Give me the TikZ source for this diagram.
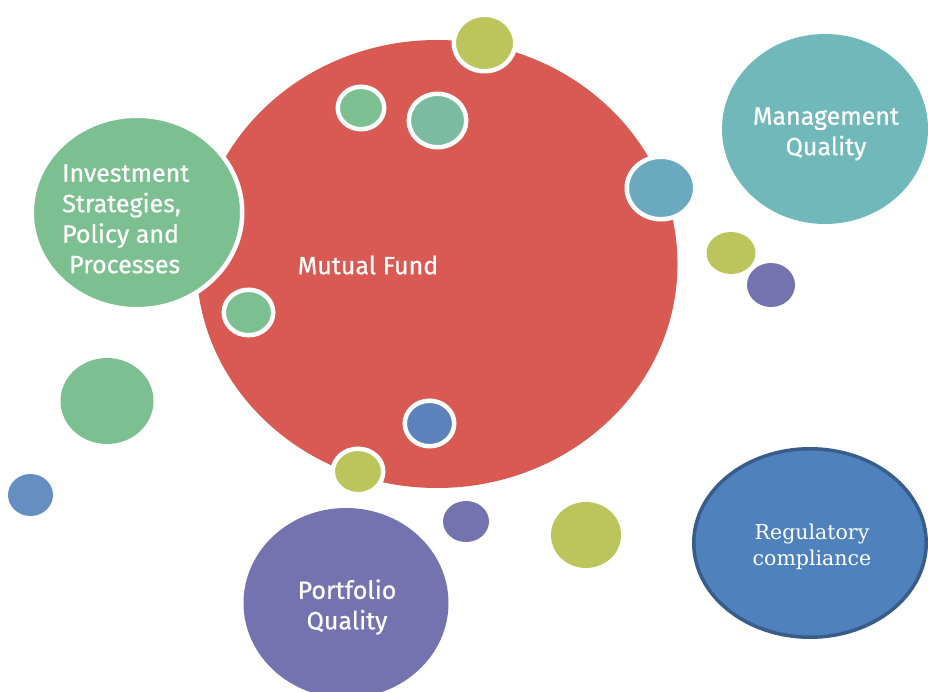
\documentclass[tikz,border=0pt]{standalone}
\usepackage{fontspec}
\setmainfont{Fira Sans}
\newfontfamily\labsans{Fira Sans}[FakeBold=0.6]
\newfontfamily\regserif{DejaVu Serif}
\usetikzlibrary{shapes.geometric}
\definecolor{cred}{RGB}{217,89,83}
\definecolor{cgreen}{RGB}{124,191,144}
\definecolor{cteal}{RGB}{112,184,186}
\definecolor{ctealgreen}{RGB}{122,187,162}
\definecolor{cblueteal}{RGB}{107,170,190}
\definecolor{cpurple}{RGB}{117,115,175}
\definecolor{cyellow}{RGB}{187,197,92}
\definecolor{cblue}{RGB}{79,129,189}
\definecolor{cbluedark}{RGB}{56,93,138}
\definecolor{cbluesmall}{RGB}{91,130,186}
\definecolor{cblueleft}{RGB}{100,143,192}
\begin{document}
\begin{tikzpicture}[x=1pt,y=-1pt,
  bub/.style={ellipse, inner sep=0pt, outer sep=0pt},
  ring/.style={draw=white, line width=4.5pt},
  lab/.style={text=white, font=\labsans\fontsize{25}{30.5}\selectfont, align=center, inner sep=0pt}]
\useasboundingbox (0,0) rectangle (928,692);
\begin{scope}
\clip (0,0) rectangle (928,692);
\node[bub, fill=cred, minimum width=481pt, minimum height=448pt] (mf) at (437,264) {};
\node[bub, fill=cgreen, ring, minimum width=210.5pt, minimum height=193.5pt] (inv) at (137,212.5) {};
\node[bub, fill=cteal, minimum width=206pt, minimum height=190pt] (mgmt) at (825,129) {};
\node[bub, fill=cblue, draw=cbluedark, line width=3.5pt, minimum width=232.5pt, minimum height=188.5pt] (reg) at (810,543) {};
\node[bub, fill=cpurple, minimum width=205pt, minimum height=190pt] (port) at (346,603) {};
% ringed small bubbles
\node[bub, ring, fill=cyellow, minimum width=61.5pt, minimum height=56.5pt] (s1) at (484.5,43) {};
\node[bub, ring, fill=cgreen, minimum width=46.5pt, minimum height=42.5pt] (s2) at (361,108) {};
\node[bub, ring, fill=ctealgreen, minimum width=57.5pt, minimum height=53.5pt] (s3) at (437.5,120.5) {};
\node[bub, ring, fill=cblueteal, minimum width=68.5pt, minimum height=62.5pt] (s4) at (661,188) {};
\node[bub, ring, fill=cgreen, minimum width=49.5pt, minimum height=45.5pt] (s5) at (248.5,312.5) {};
\node[bub, ring, fill=cbluesmall, minimum width=49.5pt, minimum height=45.5pt] (s6) at (429.5,423.5) {};
\node[bub, ring, fill=cyellow, minimum width=50.5pt, minimum height=45.5pt] (s7) at (358,471.5) {};
% free small bubbles
\node[bub, fill=cgreen, minimum width=93pt, minimum height=86pt] (f1) at (107,401) {};
\node[bub, fill=cblueleft, minimum width=45pt, minimum height=42pt] (f2) at (30.5,495) {};
\node[bub, fill=cpurple, minimum width=46pt, minimum height=41pt] (f3) at (466,521.5) {};
\node[bub, fill=cyellow, minimum width=70pt, minimum height=66pt] (f4) at (586,535) {};
\node[bub, fill=cyellow, minimum width=49pt, minimum height=42pt] (f5) at (731,253) {};
\node[bub, fill=cpurple, minimum width=48pt, minimum height=44pt] (f6) at (771,285) {};
% labels
\node[lab, align=left, anchor=west] (tinv) at (62,219) {Investment\\Strategies,\\Policy and\\\hspace*{7pt}Processes};
\node[lab] (tmf) at (368,265) {Mutual Fund};
\node[lab] (tmgmt) at (826,134) {Management\\Quality};
\node[lab] (tport) at (347,607) {Portfolio\\Quality};
\node[lab, font=\regserif\fontsize{20.5}{26}\selectfont] (treg) at (812,547) {Regulatory\\compliance};
\end{scope}
\end{tikzpicture}
\end{document}
